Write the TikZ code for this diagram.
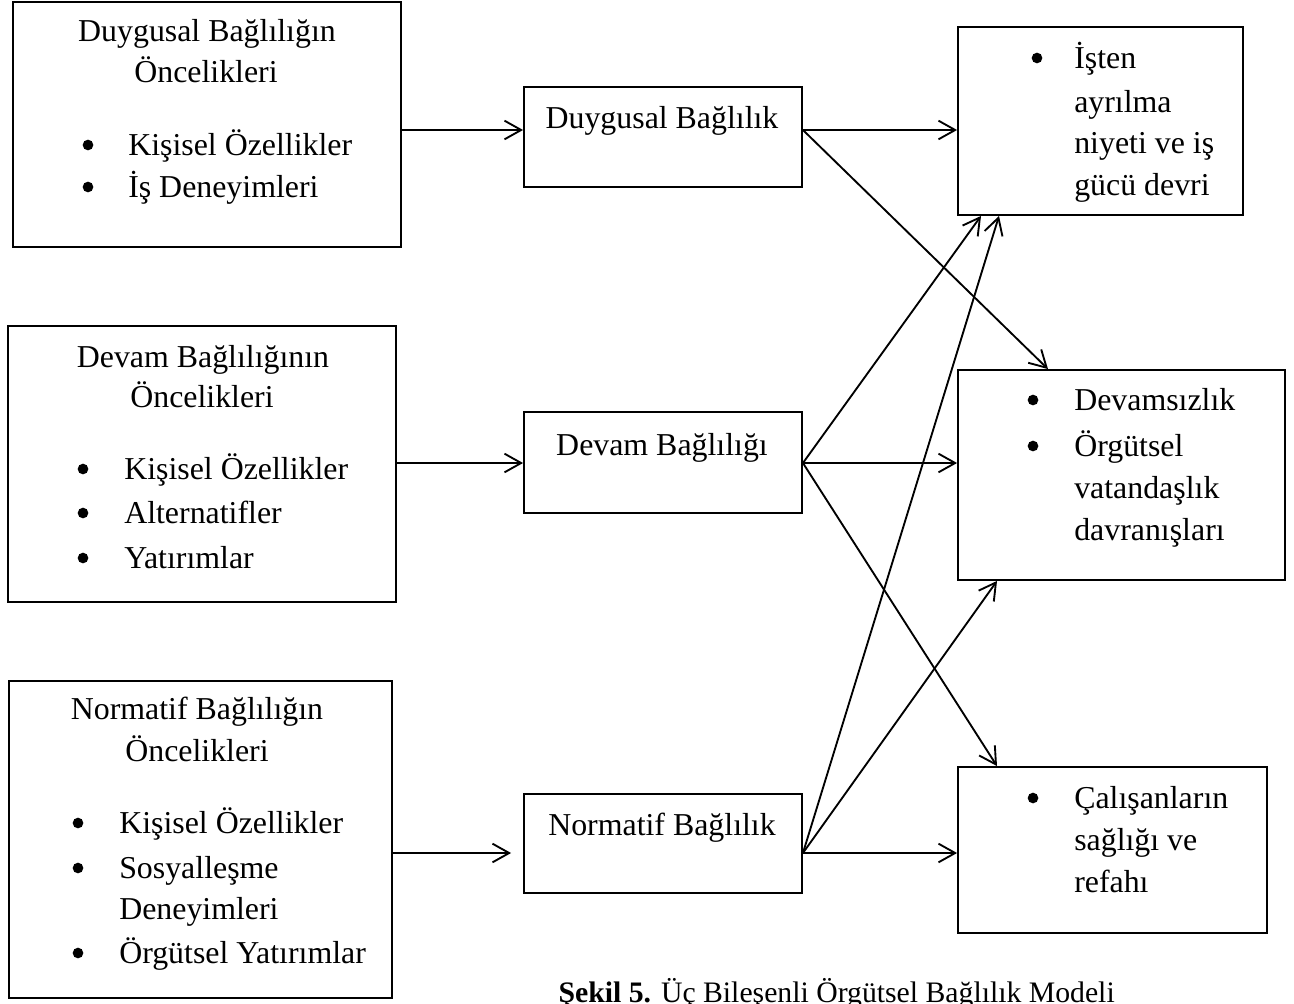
\documentclass[tikz,border=0pt]{standalone}
\usepackage{fontspec}
\setmainfont{Liberation Serif}
\usetikzlibrary{arrows.meta,fit}
\begin{document}
\begin{tikzpicture}[x=0.75pt,y=-0.75pt,
  box/.style={draw, line width=1.4pt, inner sep=0pt},
  txt/.style={inner sep=0pt, font=\fontsize{23.9pt}{28pt}\selectfont},
  ln/.style={txt, anchor=base west},
  cl/.style={txt, anchor=base},
  dot/.style={circle, fill, inner sep=0pt, minimum size=8pt},
  arr/.style={line width=1.4pt, -{Straight Barb[length=12.5pt,width=14pt,line width=1.4pt]}}]
\useasboundingbox (0,0) rectangle (1294,1003);
\clip (0,0) rectangle (1294,1003);

% antecedent boxes (left column)
\node[box, fit={(13,2) (401,247)}] (A1) {};
\node[box, fit={(8,326) (396,602)}] (A2) {};
\node[box, fit={(9,681) (392,998)}] (A3) {};

% commitment boxes (middle column)
\node[box, fit={(524,87) (802,187)}] (B1) {};
\node[box, fit={(524,412) (802,513)}] (B2) {};
\node[box, fit={(524,794) (802,893)}] (B3) {};

% outcome boxes (right column)
\node[box, fit={(958,27) (1243,215)}] (C1) {};
\node[box, fit={(958,370) (1285,580)}] (C2) {};
\node[box, fit={(958,767) (1267,933)}] (C3) {};

% texts of the left column
\node[cl] (a1t1) at (207,41) {Duygusal Bağlılığın};
\node[cl] (a1t2) at (206,82) {Öncelikleri};
\node[dot] (a1b1) at (88,145) {};
\node[ln] (a1l1) at (128,155) {Kişisel Özellikler};
\node[dot] (a1b2) at (88,187) {};
\node[ln] (a1l2) at (128,197) {İş Deneyimleri};

\node[cl] (a2t1) at (203,367) {Devam Bağlılığının};
\node[cl] (a2t2) at (202,407) {Öncelikleri};
\node[dot] (a2b1) at (83,469) {};
\node[ln] (a2l1) at (124,479) {Kişisel Özellikler};
\node[dot] (a2b2) at (83,513) {};
\node[ln] (a2l2) at (124,523) {Alternatifler};
\node[dot] (a2b3) at (83,558) {};
\node[ln] (a2l3) at (124,568) {Yatırımlar};

\node[cl] (a3t1) at (197,719) {Normatif Bağlılığın};
\node[cl] (a3t2) at (197,761) {Öncelikleri};
\node[dot] (a3b1) at (78,823) {};
\node[ln] (a3l1) at (119,833) {Kişisel Özellikler};
\node[dot] (a3b2) at (78,868) {};
\node[ln] (a3l2) at (119,878) {Sosyalleşme};
\node[ln] (a3l3) at (119,919) {Deneyimleri};
\node[dot] (a3b4) at (78,953) {};
\node[ln] (a3l4) at (119,963) {Örgütsel Yatırımlar};

% texts of the middle column
\node[cl] (b1t) at (662,128) {Duygusal Bağlılık};
\node[cl] (b2t) at (662,455) {Devam Bağlılığı};
\node[cl] (b3t) at (662,835) {Normatif Bağlılık};

% texts of the right column
\node[dot] (c1b) at (1037,58) {};
\node[ln] (c1l1) at (1074,68) {İşten};
\node[ln] (c1l2) at (1074,112) {ayrılma};
\node[ln] (c1l3) at (1074,153) {niyeti ve iş};
\node[ln] (c1l4) at (1074,195) {gücü devri};

\node[dot] (c2b1) at (1033,400) {};
\node[ln] (c2l1) at (1074,410) {Devamsızlık};
\node[dot] (c2b2) at (1033,446) {};
\node[ln] (c2l2) at (1074,456) {Örgütsel};
\node[ln] (c2l3) at (1074,498) {vatandaşlık};
\node[ln] (c2l4) at (1074,540) {davranışları};

\node[dot] (c3b) at (1033,798) {};
\node[ln] (c3l1) at (1074,808) {Çalışanların};
\node[ln] (c3l2) at (1074,850) {sağlığı ve};
\node[ln] (c3l3) at (1074,892) {refahı};

% caption
\node[inner sep=0pt, anchor=base east, font=\fontsize{22.3pt}{26pt}\selectfont] (cap) at (1115,1002)
  {\textbf{Şekil 5.} Üç Bileşenli Örgütsel Bağlılık Modeli};

% antecedents to commitment components
\draw[arr] (A1.east |- 0,130) -- (B1.west |- 0,130);
\draw[arr] (A2.east |- 0,463) -- (B2.west |- 0,463);
\draw[arr] (A3.east |- 0,853) -- ([xshift=-9pt]B3.west |- 0,853);

% commitment components to outcomes
\draw[arr] (B1.east |- 0,130) -- (C1.west |- 0,130);
\draw[arr] (B1.east |- 0,130) -- (C2.north -| 1048,0);
\draw[arr] (B2.east |- 0,463) -- (C1.south -| 981,0);
\draw[arr] (B2.east |- 0,463) -- (C2.west |- 0,463);
\draw[arr] (B2.east |- 0,463) -- (C3.north -| 997,0);
\draw[arr] (B3.east |- 0,853) -- (C1.south -| 999,0);
\draw[arr] (B3.east |- 0,853) -- (C2.south -| 997,0);
\draw[arr] (B3.east |- 0,853) -- (C3.west |- 0,853);
\end{tikzpicture}
\end{document}
